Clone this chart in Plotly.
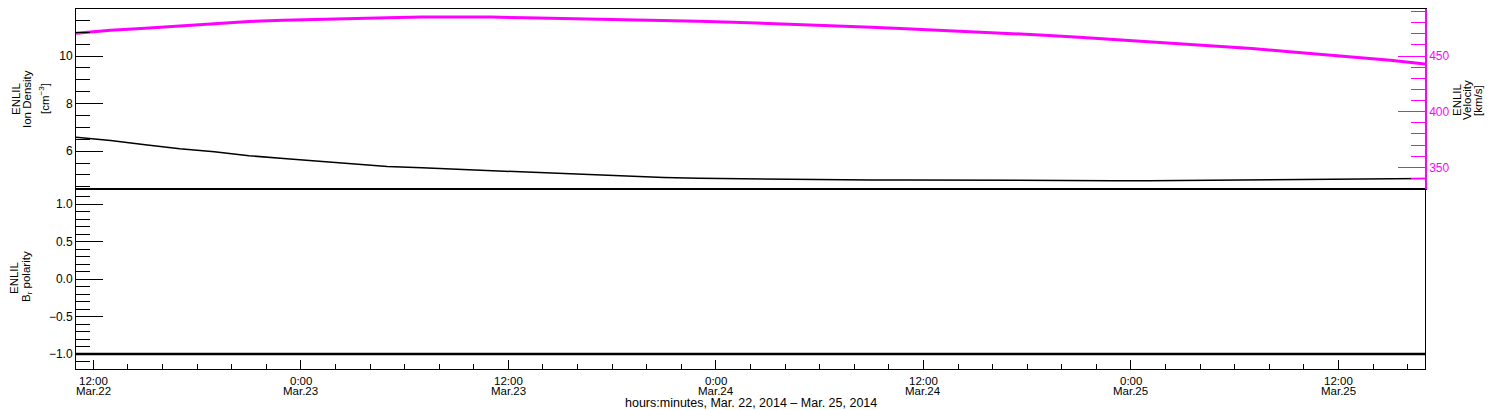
import plotly.graph_objects as go
import pandas as pd

# samples every 2 hours, 11:00 Mar 22 -> 17:00 Mar 25 2014
times = pd.date_range("2014-03-22 11:00", "2014-03-25 17:00", freq="2h")

ion_density = [6.59, 6.45, 6.27, 6.10, 5.98, 5.81, 5.69, 5.59, 5.48, 5.36,
               5.30, 5.24, 5.18, 5.11, 5.04, 4.98, 4.92, 4.89, 4.86, 4.84,
               4.82, 4.80, 4.80, 4.79, 4.79, 4.78, 4.78, 4.77, 4.77, 4.76,
               4.76, 4.76, 4.77, 4.78, 4.79, 4.80, 4.81, 4.83, 4.84, 4.85]

velocity = [470.4, 473.2, 475.1, 477.3, 479.5, 481.1, 482.2, 483.1, 483.8, 484.5,
            485.0, 485.1, 485.0, 484.5, 484.0, 483.5, 482.9, 482.1, 481.4, 480.5,
            479.5, 478.4, 477.0, 475.9, 474.5, 473.2, 472.0, 470.5, 468.8, 467.0,
            465.0, 463.1, 461.2, 458.7, 456.7, 454.1, 451.4, 449.0, 446.2, 442.8]

br_polarity = [-1, -1, -1, -1, -1, -1, -1, -1, -1, -1,
               -1, -1, -1, -1, -1, -1, -1, -1, -1, -1,
               -1, -1, -1, -1, -1, -1, -1, -1, -1, -1,
               -1, -1, -1, -1, -1, -1, -1, -1, -1, -1]

tick_times = ["2014-03-22 12:00", "2014-03-23 00:00", "2014-03-23 12:00",
              "2014-03-24 00:00", "2014-03-24 12:00", "2014-03-25 00:00",
              "2014-03-25 12:00"]
tick_hours = ["12:00", "0:00", "12:00", "0:00", "12:00", "0:00", "12:00"]
tick_days = ["Mar.22", "Mar.23", "Mar.23", "Mar.24", "Mar.24", "Mar.25", "Mar.25"]

FONT = "Liberation Sans"
MAGENTA = "#ff00ff"

fig = go.Figure()

fig.add_trace(go.Scatter(x=times, y=br_polarity, xaxis="x", yaxis="y",
                         mode="lines", line=dict(color="black", width=2.5),
                         showlegend=False))
fig.add_trace(go.Scatter(x=times, y=ion_density, xaxis="x2", yaxis="y2",
                         mode="lines", line=dict(color="black", width=1.5),
                         showlegend=False))
fig.add_trace(go.Scatter(x=times, y=velocity, xaxis="x2", yaxis="y3",
                         mode="lines", line=dict(color=MAGENTA, width=3),
                         showlegend=False))

common_y = dict(showgrid=False, zeroline=False, showline=True, linecolor="black",
                linewidth=1, ticks="inside", ticklen=27, tickwidth=1,
                tickcolor="black", tickfont=dict(family=FONT, size=12, color="black"))

fig.update_layout(
    width=1500, height=410,
    margin=dict(l=76, r=75, t=9, b=41),
    paper_bgcolor="white", plot_bgcolor="white",
    font=dict(family=FONT, size=11, color="black"),
    xaxis=dict(domain=[0, 1], anchor="y", type="date",
               range=["2014-03-22 11:00", "2014-03-25 17:00"],
               showgrid=False, zeroline=False, showline=True, mirror=True,
               linecolor="black", linewidth=1,
               ticks="inside", ticklen=9, tickcolor="black",
               tickvals=tick_times, showticklabels=False,
               minor=dict(ticks="inside", ticklen=5, tickcolor="black",
                          dtick=2 * 3600 * 1000, tick0="2014-03-22 12:00",
                          showgrid=False)),
    xaxis2=dict(domain=[0, 1], anchor="y2", matches="x", type="date",
                showgrid=False, zeroline=False, showline=True, mirror=True,
                linecolor="black", linewidth=1, ticks="", showticklabels=False),
    yaxis=dict(domain=[0, 0.5], anchor="x", range=[-1.2, 1.2],
               tick0=0, dtick=0.5, tickformat=".1f", mirror=True,
               minor=dict(ticks="inside", ticklen=14, dtick=0.1, tickcolor="black",
                          showgrid=False),
               **common_y),
    yaxis2=dict(domain=[0.5, 1], anchor="x2", range=[4.41, 11.98],
                tick0=0, dtick=2,
                minor=dict(ticks="inside", ticklen=14, dtick=0.5, tickcolor="black",
                           showgrid=False),
                **common_y),
    yaxis3=dict(overlaying="y2", anchor="x2", side="right", range=[330.5, 492.3],
                tick0=0, dtick=50, showgrid=False, zeroline=False,
                showline=True, linecolor=MAGENTA, linewidth=1.5,
                ticks="inside", ticklen=27, tickcolor=MAGENTA,
                tickfont=dict(family=FONT, size=12, color=MAGENTA),
                minor=dict(ticks="inside", ticklen=14, dtick=10, tickcolor=MAGENTA,
                           showgrid=False)),
)


def px_x(px):
    return (px - 76) / 1349


def px_y(py):
    return (369 - py) / 360


# x tick labels (two rows) and axis title
for tv, hh, dd in zip(tick_times, tick_hours, tick_days):
    fig.add_annotation(x=tv, y=px_y(380.5), xref="x", yref="paper", text=hh,
                       showarrow=False, xanchor="center", yanchor="middle",
                       font=dict(family=FONT, size=11.5))
    fig.add_annotation(x=tv, y=px_y(390.5), xref="x", yref="paper", text=dd,
                       showarrow=False, xanchor="center", yanchor="middle",
                       font=dict(family=FONT, size=11.5))
fig.add_annotation(x=0.5, y=px_y(403), xref="paper", yref="paper",
                   text="hours:minutes, Mar. 22, 2014 \u2013 Mar. 25, 2014",
                   showarrow=False, xanchor="center", yanchor="middle",
                   font=dict(family=FONT, size=12.5))


def side_title(px, py, text, colour="black"):
    fig.add_annotation(x=px_x(px), y=px_y(py), xref="paper", yref="paper",
                       text=text, textangle=-90, showarrow=False,
                       xanchor="center", yanchor="middle",
                       font=dict(family=FONT, size=11.5, color=colour))


side_title(16, 99, "ENLIL")
side_title(27, 99, "Ion Density")
side_title(44, 99, "[cm<sup>\u22123</sup>]")
side_title(14, 277, "ENLIL")
side_title(27, 277, "B<sub>r</sub> polarity")
side_title(1457, 100, "ENLIL")
side_title(1467, 100, "Velocity")
side_title(1478, 100, "[km/s]")

# drop the browser's default page margin so the figure sits at (0, 0)
fig.write_html("out.html", config={"displayModeBar": False},
               post_script="document.body.style.margin = '0';")
